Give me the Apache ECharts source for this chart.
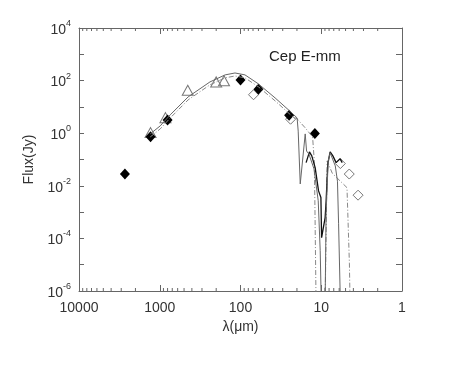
<!DOCTYPE html>
<html>
<head>
<meta charset="utf-8">
<script src="https://cdn.jsdelivr.net/npm/echarts@6/dist/echarts.min.js"></script>
<style>
html, body { margin: 0; padding: 0; background: #fff; }
#main { width: 460px; height: 383px; }
</style>
</head>
<body>
<div id="main"></div>
<script>
// axes
var lamMin = 1, lamMax = 10000;
var fluxMin = 1e-6, fluxMax = 1e4;
var xTickLabels = ['1', '10', '100', '1000', '10000'];
var minorDecades = [1, 10, 100, 1000];
var minorSteps = [2, 3, 4, 5, 6, 7, 8, 9];

// observed fluxes (um, Jy)
var lamFilled = [2700, 1300, 800, 100, 60, 25, 12];
var fluxFilled = [0.028, 0.74, 3.2, 106, 47, 4.8, 0.97];
var lamTri = [1300, 850, 450, 200, 160];
var fluxTri = [1.05, 3.9, 43, 89, 98];
var lamOpen = [69, 24, 5.8, 4.5, 3.5];
var fluxOpen = [29, 3.4, 0.07, 0.028, 0.0044];

// model curves
var lamGray = [1311, 986, 741, 445, 239, 155, 117, 88, 60, 37.3, 23.1, 19.9, 19.3, 18.2, 17.2, 15.8, 15.2, 14.2, 12.3, 10.9, 10.3, 10.0, 8.95, 8.7, 8.2, 7.76, 6.7, 6.3, 6.1, 5.8];
var fluxGray = [0.94, 1.9, 5.0, 24, 89, 165, 195, 165, 75, 22, 5.9, 3.8, 1.2, 0.0118, 0.01, 0.94, 0.21, 0.16, 0.044, 0.0027, 3.4e-5, 4e-7, 4e-7, 0.0011, 0.088, 0.18, 0.057, 0.015, 3.6e-4, 4e-7];
var lamBlack = [15.4, 14.0, 13.1, 11.9, 10.8, 10.1, 9.9, 9.4, 8.95, 8.7, 8.3, 7.76, 7.18, 6.55, 6.23, 5.84, 5.5];
var fluxBlack = [0.076, 0.195, 0.137, 0.049, 0.0064, 0.0036, 1.07e-4, 1.07e-4, 6.2e-4, 0.0027, 0.068, 0.195, 0.137, 0.076, 0.083, 0.106, 0.076];
var lamDash = [1311, 986, 741, 445, 239, 155, 117, 88, 60, 37.3, 23.1, 19.9, 15.8, 12.8, 12.2, 12.0, 11.6, 8.95, 8.45, 7.3, 4.8, 4.48, 4.4];
var fluxDash = [0.72, 1.46, 3.8, 18.5, 69, 127, 150, 127, 58, 17, 4.5, 3.5, 1.6, 0.72, 0.088, 0.0027, 4e-7, 4e-7, 0.088, 0.03, 0.0085, 1.07e-5, 4e-7];

function pairs(xs, ys) {
    return xs.map(function (x, i) { return [x, ys[i]]; });
}

var minorTicks = [];
minorDecades.forEach(function (d) {
    minorSteps.forEach(function (m) { minorTicks.push([m * d, fluxMin]); });
});

var axisColor = '#666';
var labelFont = 'Liberation Sans, Arial, sans-serif';

var myChart = echarts.init(document.getElementById('main'));
var option = {
    backgroundColor: '#fff',
    animation: false,
    title: {
        text: 'Cep E-mm',
        left: 264,
        top: 44,
        textStyle: { fontFamily: labelFont, fontSize: 15, fontWeight: 'normal', color: '#222' }
    },
    grid: { left: 79, right: 58, top: 28, bottom: 92 },
    xAxis: [{
        type: 'log',
        logBase: 10,
        inverse: true,
        min: lamMin,
        max: lamMax,
        position: 'bottom',
        name: 'λ(μm)',
        nameLocation: 'middle',
        nameGap: 26,
        nameTextStyle: { fontFamily: labelFont, fontSize: 14, color: '#333' },
        axisLine: { lineStyle: { color: axisColor, width: 1 } },
        axisTick: { inside: true, length: 6, lineStyle: { color: axisColor } },
        axisLabel: {
            margin: 10,
            fontFamily: labelFont,
            fontSize: 14,
            color: '#333',
            formatter: function (v) {
                return xTickLabels[Math.round(Math.log10(v))];
            }
        },
        splitLine: { show: false }
    }, {
        type: 'log',
        logBase: 10,
        inverse: true,
        min: lamMin,
        max: lamMax,
        position: 'top',
        axisLine: { lineStyle: { color: axisColor, width: 1 } },
        axisTick: { inside: true, length: 6, lineStyle: { color: axisColor } },
        axisLabel: { show: false },
        splitLine: { show: false }
    }],
    yAxis: [{
        type: 'log',
        logBase: 10,
        min: fluxMin,
        max: fluxMax,
        interval: 1,
        name: 'Flux(Jy)',
        nameLocation: 'middle',
        nameGap: 42,
        nameTextStyle: { fontFamily: labelFont, fontSize: 14, color: '#333' },
        axisLine: { lineStyle: { color: axisColor, width: 1 } },
        axisTick: { inside: true, length: 5, lineStyle: { color: axisColor } },
        axisLabel: {
            margin: 8,
            formatter: function (v) {
                var e = Math.round(Math.log10(v));
                if (e % 2 !== 0) return '';
                return '{b|10}{s|' + e + '}';
            },
            rich: {
                b: { fontFamily: labelFont, fontSize: 14, color: '#333', lineHeight: 18, verticalAlign: 'bottom' },
                s: { fontFamily: labelFont, fontSize: 9, color: '#333', lineHeight: 10, verticalAlign: 'top' }
            }
        },
        splitLine: { show: false }
    }, {
        type: 'log',
        logBase: 10,
        min: fluxMin,
        max: fluxMax,
        interval: 1,
        position: 'right',
        axisLine: { lineStyle: { color: axisColor, width: 1 } },
        axisTick: { inside: true, length: 6, lineStyle: { color: axisColor } },
        axisLabel: { show: false },
        splitLine: { show: false }
    }],
    series: [{
        // minor ticks on bottom and top of the frame
        type: 'custom',
        silent: true,
        clip: false,
        encode: { x: 0, y: 1 },
        data: minorTicks,
        renderItem: function (params, api) {
            var b = api.coord([api.value(0), fluxMin]);
            var t = api.coord([api.value(0), fluxMax]);
            return {
                type: 'group',
                children: [
                    { type: 'line', shape: { x1: b[0], y1: b[1], x2: b[0], y2: b[1] - 3 }, style: { stroke: axisColor, lineWidth: 1 } },
                    { type: 'line', shape: { x1: t[0], y1: t[1], x2: t[0], y2: t[1] + 3 }, style: { stroke: axisColor, lineWidth: 1 } }
                ]
            };
        }
    }, {
        name: 'model dash',
        type: 'line',
        data: pairs(lamDash, fluxDash),
        showSymbol: false,
        clip: true,
        lineStyle: { color: '#888', width: 1, type: [5, 2, 1, 2] }
    }, {
        name: 'model black',
        type: 'line',
        data: pairs(lamBlack, fluxBlack),
        showSymbol: false,
        clip: true,
        lineStyle: { color: '#111', width: 1.3 }
    }, {
        name: 'model gray',
        type: 'line',
        data: pairs(lamGray, fluxGray),
        showSymbol: false,
        clip: true,
        lineStyle: { color: '#666', width: 1 }
    }, {
        name: 'triangles',
        type: 'scatter',
        data: pairs(lamTri, fluxTri),
        symbol: 'triangle',
        symbolSize: [11, 10],
        itemStyle: { color: 'rgba(255,255,255,0)', borderColor: '#777', borderWidth: 1, opacity: 1 }
    }, {
        name: 'open diamonds',
        type: 'scatter',
        data: pairs(lamOpen, fluxOpen),
        symbol: 'diamond',
        symbolSize: [10, 10],
        itemStyle: { color: 'rgba(255,255,255,0)', borderColor: '#777', borderWidth: 1, opacity: 1 }
    }, {
        name: 'filled diamonds',
        type: 'scatter',
        data: pairs(lamFilled, fluxFilled),
        symbol: 'diamond',
        symbolSize: [10, 11],
        itemStyle: { color: '#000', opacity: 1 }
    }]
};
myChart.setOption(option);
</script>
</body>
</html>
